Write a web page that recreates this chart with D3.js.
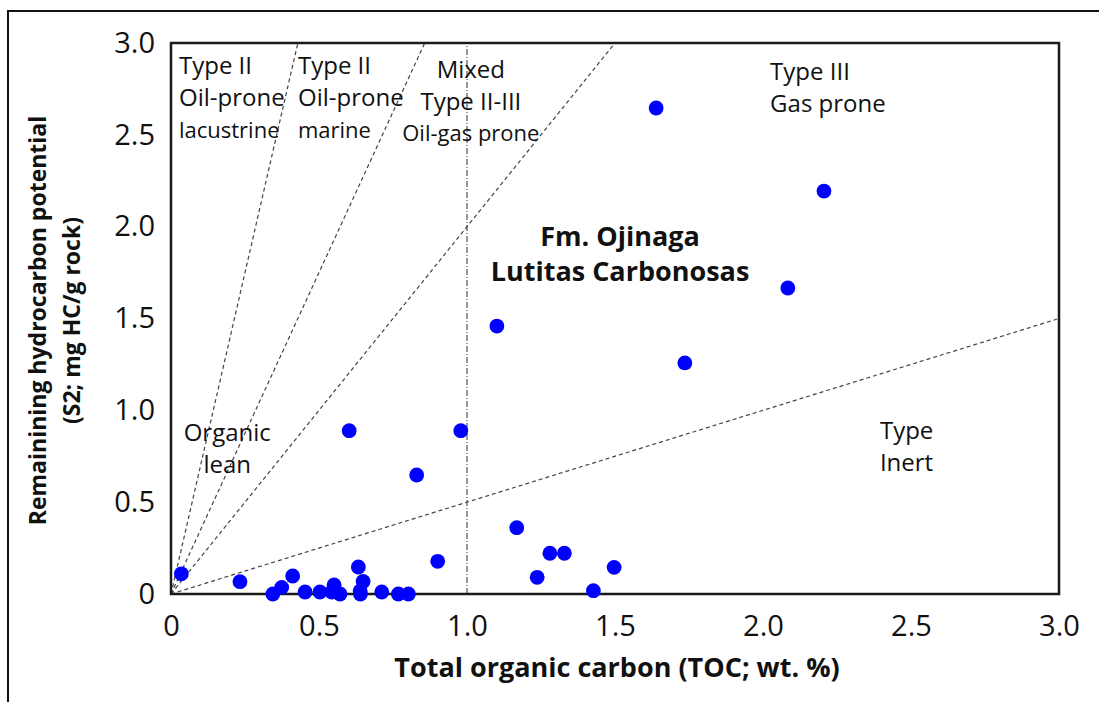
<!DOCTYPE html>
<html>
<head>
<meta charset="utf-8">
<script src="https://cdn.jsdelivr.net/npm/d3@7"></script>
<style>
html,body{margin:0;padding:0;background:#fff;}
svg{display:block;}
text{font-family:"Open Sans","Noto Sans",sans-serif;fill:#111;}
</style>
</head>
<body>
<svg id="chart" width="1099" height="702"></svg>
<script>
// ---- data ----
const toc = [0.035,0.233,0.344,0.374,0.411,0.453,0.503,0.543,0.551,0.571,0.602,0.633,0.649,0.639,0.640,0.712,0.768,0.802,0.830,0.901,0.979,1.101,1.168,1.237,1.280,1.329,1.427,1.497,1.639,1.736,2.084,2.206];
const s2  = [0.110,0.067,0.000,0.036,0.098,0.011,0.011,0.011,0.049,0.000,0.889,0.147,0.068,0.016,0.000,0.011,0.000,0.000,0.648,0.178,0.889,1.459,0.361,0.091,0.222,0.222,0.018,0.145,2.646,1.258,1.666,2.194];
const hiLines = [700, 350, 200, 50];       // HI boundary lines (mg HC/g TOC)
const tocDivide = [1.0];                   // vertical divider
const xTicks = [0, 0.5, 1.0, 1.5, 2.0, 2.5, 3.0];
const yTicks = [0, 0.5, 1.0, 1.5, 2.0, 2.5, 3.0];
const zoneLabels = [
  {lines:["Type II","Oil-prone","lacustrine"], x:0.027, y:2.875, anchor:"start"},
  {lines:["Type II","Oil-prone","marine"], x:0.429, y:2.875, anchor:"start"},
  {lines:["Mixed","Type II-III","Oil-gas prone"], x:1.013, y:2.855, anchor:"middle"},
  {lines:["Type III","Gas prone"], x:2.024, y:2.845, anchor:"start"},
  {lines:["Organic","lean"], x:0.19, y:0.88, anchor:"middle"},
  {lines:["Type","Inert"], x:2.395, y:0.89, anchor:"start"}
];
const titleLines = ["Fm. Ojinaga","Lutitas Carbonosas"];
const xTitle = "Total organic carbon (TOC; wt. %)";
const yTitle = ["Remainining hydrocarbon potential","(S2; mg HC/g rock)"];

// ---- layout ----
const svg = d3.select("#chart");
const L = 171, R = 1059, T = 43, B = 594;
const x = d3.scaleLinear().domain([0,3]).range([L,R]);
const y = d3.scaleLinear().domain([0,3]).range([B,T]);

// outer frame
svg.append("rect").attr("x",8).attr("y",11).attr("width",1200).attr("height",800)
  .attr("fill","none").attr("stroke","#111").attr("stroke-width",2);

svg.append("defs").append("clipPath").attr("id","clip")
  .append("rect").attr("x",L).attr("y",T).attr("width",R-L).attr("height",B-T);

const g = svg.append("g");

// HI lines
g.append("g").attr("clip-path","url(#clip)").selectAll("line").data(hiLines).join("line")
  .attr("x1",x(0)).attr("y1",y(0))
  .attr("x2",d => x(Math.min(3, 3/(d/100))))
  .attr("y2",d => y(Math.min(3, 3*d/100)))
  .attr("stroke","#444").attr("stroke-width",1.2).attr("stroke-dasharray","4,3");

g.selectAll("line.div").data(tocDivide).join("line").attr("class","div")
  .attr("x1",d=>x(d)).attr("x2",d=>x(d)).attr("y1",y(0)).attr("y2",y(3))
  .attr("stroke","#444").attr("stroke-width",1.1).attr("stroke-dasharray","6,2,1,2");

// plot border
g.append("rect").attr("x",L).attr("y",T).attr("width",R-L).attr("height",B-T)
  .attr("fill","none").attr("stroke","#1a1a1a").attr("stroke-width",2.5);

// axes
const fmt = d => d===0 ? "0" : d3.format(".1f")(d);
const xa = g.append("g").attr("transform",`translate(0,${B})`)
  .call(d3.axisBottom(x).tickValues(xTicks).tickFormat(fmt).tickSize(0).tickPadding(25));
const ya = g.append("g").attr("transform",`translate(${L},0)`)
  .call(d3.axisLeft(y).tickValues(yTicks).tickFormat(fmt).tickSize(0).tickPadding(16));
[xa,ya].forEach(a=>{a.select(".domain").remove();
  a.selectAll("text").attr("font-family","'Open Sans',sans-serif").attr("font-size",29).attr("fill","#111");});
xa.selectAll("text").attr("dy","0.6em");

// zone labels
zoneLabels.forEach(z=>{
  const t = g.append("text").attr("text-anchor",z.anchor).attr("font-size",24);
  z.lines.forEach((ln,i)=>{
    t.append("tspan").attr("x",x(z.x)).attr("y",y(z.y)+i*32).attr("dy","0.35em")
      .attr("font-size", i===2 ? 22 : 24).text(ln);
  });
});

// bold title
const tt = g.append("text").attr("text-anchor","middle").attr("font-size",27).attr("font-weight","bold");
titleLines.forEach((ln,i)=>tt.append("tspan").attr("x",x(1.517)).attr("y",y(1.945)+i*35).attr("dy","0.35em").text(ln));

// points
g.selectAll("circle").data(toc.map((t,i)=>[t,s2[i]])).join("circle")
  .attr("cx",d=>x(d[0])).attr("cy",d=>y(d[1])).attr("r",7.4).attr("fill","#0000ff");

// axis titles
svg.append("text").attr("x",617).attr("y",668).attr("dy","0.35em").attr("text-anchor","middle")
  .attr("font-size",27).attr("font-weight","bold").text(xTitle);
const yt = svg.append("text").attr("transform",`translate(38,${(T+B)/2+2}) rotate(-90)`)
  .attr("text-anchor","middle").attr("font-size",23).attr("font-weight","bold");
yTitle.forEach((ln,i)=>yt.append("tspan").attr("x",0).attr("y",i*34).attr("dy","0.35em").text(ln));
</script>
</body>
</html>
